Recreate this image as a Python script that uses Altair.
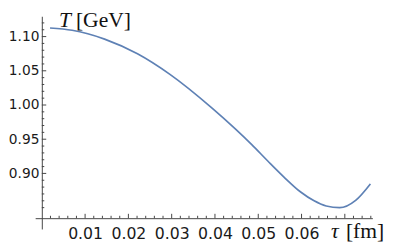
import altair as alt
import pandas as pd

# Curve T(tau)
tau = [0.0019, 0.0070, 0.0145, 0.0221, 0.0296, 0.0394, 0.0447, 0.0485, 0.0522,
       0.0560, 0.0598, 0.0628, 0.0657, 0.0688, 0.0725, 0.0759]
temp = [1.1125, 1.1092, 1.0963, 1.0748, 1.0447, 0.9950, 0.9650, 0.9420, 0.9181,
        0.8943, 0.8728, 0.8603, 0.8524, 0.8499, 0.8607, 0.8847]

# Axis ticks / labels
x_labels = [0.01, 0.02, 0.03, 0.04, 0.05, 0.06]
x_major = [0.01, 0.02, 0.03, 0.04, 0.05, 0.06, 0.07]
x_minor = [0.002, 0.004, 0.006, 0.008, 0.012, 0.014, 0.016, 0.018, 0.022, 0.024, 0.026, 0.028,
           0.032, 0.034, 0.036, 0.038, 0.042, 0.044, 0.046, 0.048, 0.052, 0.054, 0.056, 0.058,
           0.062, 0.064, 0.066, 0.068, 0.072, 0.074, 0.076]
y_labels = [0.90, 0.95, 1.00, 1.05, 1.10]
y_minor = [0.85, 0.86, 0.87, 0.88, 0.89, 0.91, 0.92, 0.93, 0.94, 0.96, 0.97, 0.98, 0.99,
           1.01, 1.02, 1.03, 1.04, 1.06, 1.07, 1.08, 1.09, 1.11, 1.12]

x_domain = [-0.00154, 0.07636]
y_domain = [0.8188, 1.1297]
x_cross = 0.8345  # T value where the tau axis sits

W, H = 344, 217
AXIS = "#444444"
LABEL = "#1a1a1a"

xs = alt.Scale(domain=x_domain, nice=False, zero=False)
ys = alt.Scale(domain=y_domain, nice=False, zero=False)

curve_df = pd.DataFrame({"tau": tau, "T": temp})

curve = alt.Chart(curve_df).mark_line(
    color="#5E81B5", strokeWidth=1.7, interpolate="monotone"
).encode(
    x=alt.X("tau:Q", scale=xs, axis=alt.Axis(
        values=x_labels, format=".2f", offset=-11, ticks=False, tickSize=0,
        grid=False, domainColor=AXIS, domainWidth=1, labelPadding=8,
        labelFont="DejaVu Sans", labelFontSize=16, labelColor=LABEL,
        labelFlush=False, labelOverlap=False, title=None)),
    y=alt.Y("T:Q", scale=ys, axis=alt.Axis(
        values=y_labels, format=".2f", offset=-6.8, ticks=False, tickSize=0,
        grid=False, domainColor=AXIS, domainWidth=1, labelPadding=3,
        labelFont="DejaVu Sans", labelFontSize=14, labelColor=LABEL,
        labelFlush=False, labelOverlap=False, title=None)),
)

def yticks(vals, length):
    return alt.Chart(pd.DataFrame({"v": vals})).mark_rule(
        color=AXIS, strokeWidth=1, x2Offset=length
    ).encode(
        y=alt.Y("v:Q", scale=ys),
        x=alt.XDatum(0, scale=xs),
        x2=alt.X2Datum(0),
    )

def xticks(vals, length):
    return alt.Chart(pd.DataFrame({"v": vals})).mark_rule(
        color=AXIS, strokeWidth=1, y2Offset=-length
    ).encode(
        x=alt.X("v:Q", scale=xs),
        y=alt.YDatum(x_cross, scale=ys),
        y2=alt.Y2Datum(x_cross),
    )

def label(txt, x, y, style):
    return alt.Chart(pd.DataFrame({"t": [txt]})).mark_text(
        font="Liberation Serif", fontSize=22, fontStyle=style, color="#111111",
        align="left", baseline="alphabetic"
    ).encode(text="t:N", x=alt.value(x), y=alt.value(y))

chart = alt.layer(
    curve,
    yticks(y_labels, 4.5), yticks(y_minor, 2.5),
    xticks(x_major, 4.5), xticks(x_minor, 2.5),
    label("T", 24.3, 10.5, "italic"),
    label("[GeV]", 41.6, 10.5, "normal"),
    label("τ", 301.8, 226, "italic"),
    label("[fm]", 317, 226, "normal"),
).properties(
    width=W, height=H,
    autosize=alt.AutoSizeParams(type="none"),
    padding={"left": 27.7, "top": 6, "right": 18, "bottom": 18},
).configure_view(stroke=None)

chart.save("out.html", embed_options={"renderer": "svg", "actions": False})
